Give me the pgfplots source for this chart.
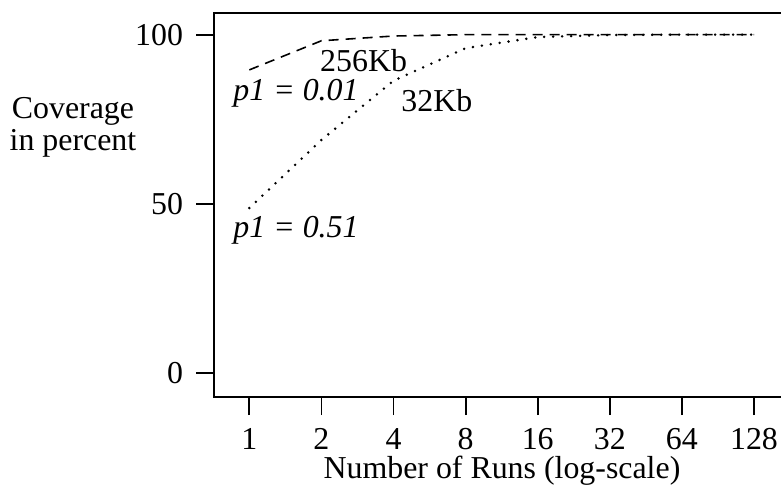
\documentclass[border=0pt]{standalone}
\usepackage{fontspec}
\setmainfont{Liberation Serif}
\usepackage{pgfplots}
\pgfplotsset{compat=1.18}
\begin{document}
\fontsize{16}{19}\selectfont
\begin{tikzpicture}[x=1bp,y=1bp]
\begin{axis}[
  at={(0,0)}, anchor=south west,
  scale only axis, width=293bp, height=192bp,
  xmode=log, log basis x=2,
  xmin=0.7121, xmax=199.2, ymin=-7.0, ymax=106.4,
  xtick={1,2,4,8,16,32,64,128},
  xticklabels={1,2,4,8,16,32,64,128},
  ytick={0,50,100},
  xtick pos=bottom, ytick pos=left,
  tick align=outside,
  major tick length=9bp,
  tick style={line width=0.9pt, black},
  axis line style={line width=0.9pt},
  xticklabel style={yshift=-1bp},
  yticklabel style={xshift=-1bp},
  /pgf/number format/assume math mode=true,
  clip=false,
]
\addplot[black, line width=0.8pt, dash pattern=on 5bp off 3.5bp] coordinates {
  (1,89.6) (2,98.2) (4,99.6) (8,100) (16,100) (32,100) (64,100) (128,100)};
\addplot[black, line width=1.4pt, line cap=round, dash pattern=on 0bp off 4.5bp] coordinates {
  (1,48.8) (2,68.9) (4,86.4) (8,96.0) (16,99.3) (32,99.9) (64,100) (128,100)};
\node[anchor=base west, inner sep=0pt] at (axis cs:1.97,89.2) {256Kb};
\node[anchor=base west, inner sep=0pt] at (axis cs:0.855,80.5) {\itshape p1 = 0.01};
\node[anchor=base west, inner sep=0pt] at (axis cs:4.3,77.2) {32Kb};
\node[anchor=base west, inner sep=0pt] at (axis cs:0.855,40.0) {\itshape p1 = 0.51};
\end{axis}
\node[anchor=base] at (-70.5,139.5) {Coverage};
\node[anchor=base] at (-70.5,123.5) {in percent};
\node[anchor=base] at (144,-40.5) {Number of Runs (log-scale)};
\pgfresetboundingbox
\path[use as bounding box] (-107,-45) rectangle (283.5,198.5);
\end{tikzpicture}
\end{document}
